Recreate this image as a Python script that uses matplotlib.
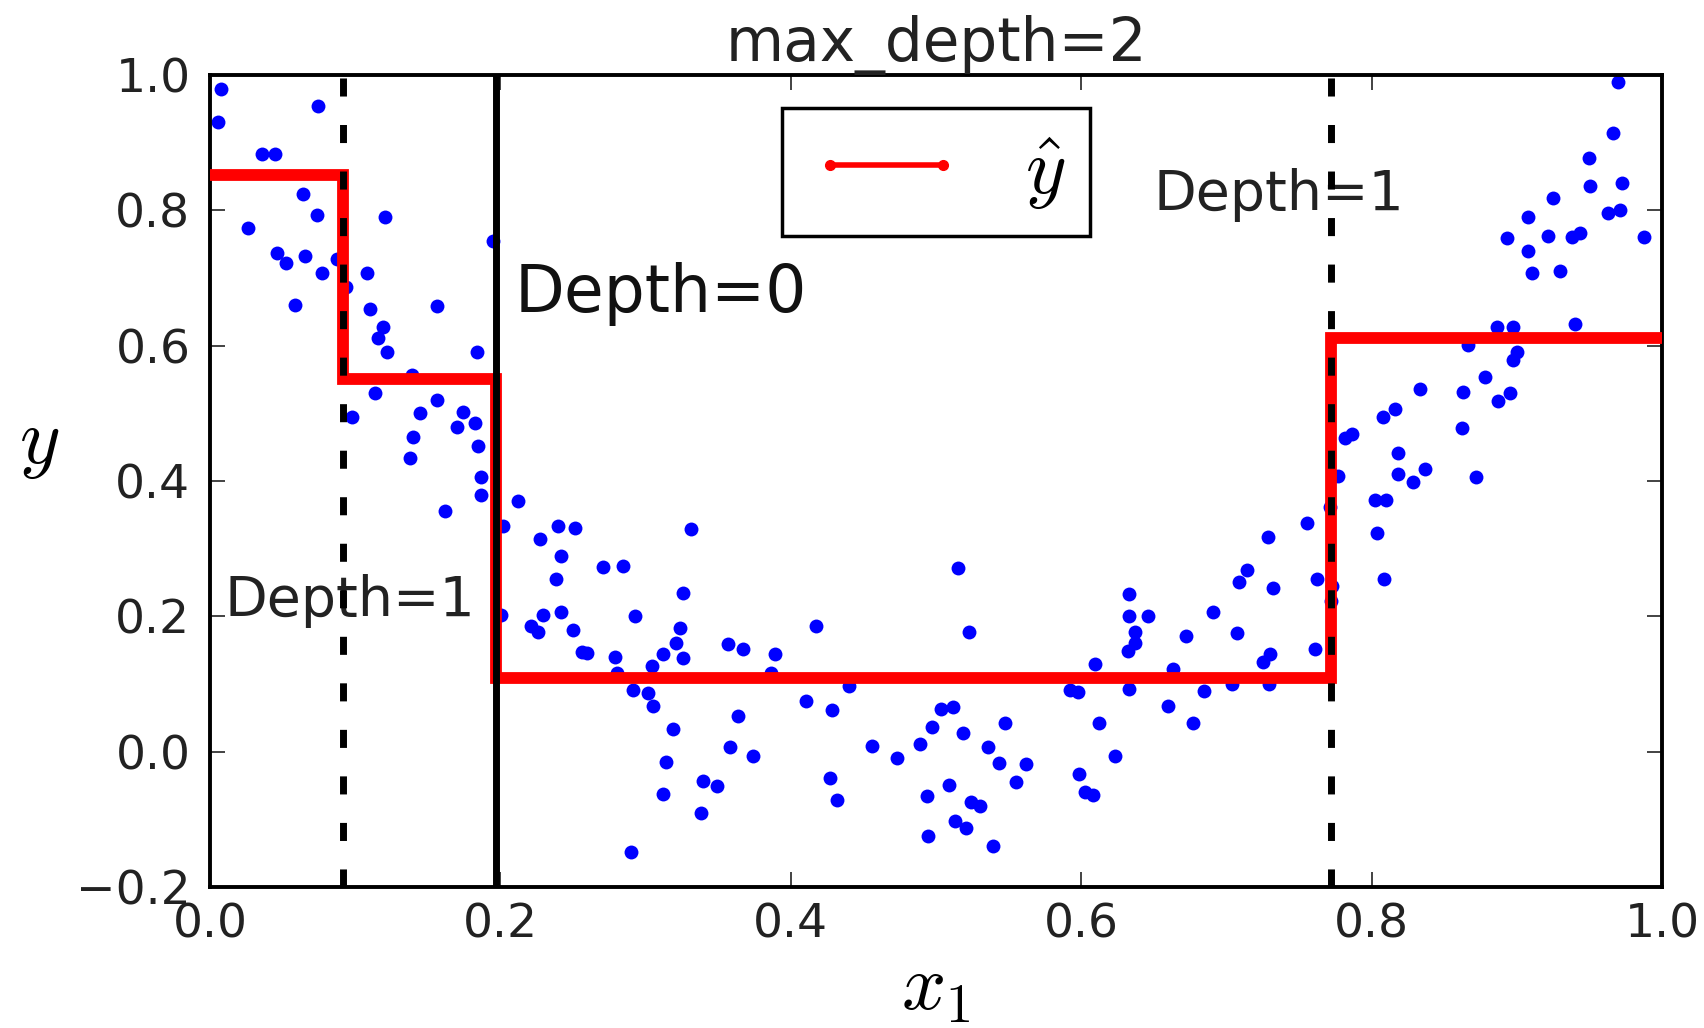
import numpy as np
import matplotlib.pyplot as plt
from matplotlib.lines import Line2D

plt.rcParams['mathtext.fontset'] = 'cm'

# training samples (x1, y)
x1_vals = [
    0.0074, 0.0057, 0.0746, 0.0356, 0.0448, 0.0643, 0.0735, 0.0264, 0.1205, 0.0464,
    0.0523, 0.0654, 0.0769, 0.0872, 0.0937, 0.0585, 0.1084, 0.1102, 0.1189, 0.1159,
    0.1220, 0.1561, 0.1836, 0.1951, 0.1389, 0.1136, 0.0976, 0.1561, 0.1446, 0.1745,
    0.1699, 0.1825, 0.1400, 0.1848, 0.1377, 0.1870,
    0.1870, 0.1618, 0.2124, 0.2020, 0.2399, 0.2514, 0.2276, 0.2421, 0.2383, 0.2007,
    0.2296, 0.2421, 0.2214, 0.2261, 0.2497, 0.2560,
    0.2600, 0.3311, 0.2709, 0.2847, 0.3255, 0.2927, 0.3237, 0.3209, 0.3122, 0.3260,
    0.2789, 0.3042, 0.2805, 0.3570, 0.3673, 0.3891, 0.3861, 0.4174, 0.2911, 0.3019,
    0.3053, 0.3638, 0.3186, 0.3581, 0.3742, 0.3140, 0.3393, 0.3489, 0.3117, 0.3379,
    0.2897, 0.4105, 0.4281, 0.4403, 0.4557, 0.4729, 0.4890, 0.4270, 0.4320, 0.4936,
    0.4947, 0.4970,
    0.5154, 0.5230, 0.5037, 0.5120, 0.5188, 0.5360, 0.5475, 0.5434, 0.5620, 0.5551,
    0.5092, 0.5244, 0.5303, 0.5131, 0.5207, 0.5395, 0.5923, 0.5980, 0.6095, 0.6125,
    0.6233, 0.5987, 0.6026, 0.6083, 0.6332, 0.6332, 0.6458, 0.6371, 0.6371, 0.6325,
    0.6332, 0.6634, 0.6600, 0.6772, 0.6722, 0.6846, 0.6910, 0.7036, 0.7070, 0.7089,
    0.7140, 0.7284, 0.7323, 0.7254, 0.7300, 0.7296,
    0.7771, 0.8184, 0.8287, 0.8368, 0.8719, 0.8023, 0.8099, 0.8040, 0.8088, 0.7712,
    0.7557, 0.7622, 0.7725, 0.7718, 0.7610,
    0.9699, 0.9665, 0.9500, 0.9504, 0.9722, 0.9251, 0.9079, 0.9631, 0.9711, 0.8930,
    0.9217, 0.9378, 0.9435, 0.9876, 0.9079, 0.9102, 0.9298, 0.9401, 0.8861, 0.8976,
    0.8666, 0.9000, 0.8976, 0.8781, 0.8632, 0.8873, 0.8953, 0.8333, 0.8620, 0.8081,
    0.8161, 0.7817, 0.7863, 0.8184,
]
y_vals = [
    0.980, 0.931, 0.954, 0.884, 0.883, 0.824, 0.793, 0.774, 0.790, 0.737,
    0.722, 0.733, 0.708, 0.728, 0.686, 0.660, 0.707, 0.654, 0.628, 0.611,
    0.590, 0.659, 0.590, 0.754, 0.557, 0.530, 0.494, 0.519, 0.501, 0.502,
    0.480, 0.486, 0.465, 0.451, 0.434, 0.406,
    0.379, 0.356, 0.371, 0.334, 0.333, 0.330, 0.314, 0.289, 0.255, 0.202,
    0.202, 0.206, 0.185, 0.177, 0.180, 0.148,
    0.146, 0.329, 0.273, 0.274, 0.234, 0.200, 0.182, 0.160, 0.145, 0.139,
    0.140, 0.127, 0.116, 0.159, 0.151, 0.144, 0.116, 0.185, 0.091, 0.087,
    0.067, 0.052, 0.033, 0.007, -0.006, -0.015, -0.043, -0.051, -0.062, -0.090,
    -0.149, 0.075, 0.062, 0.097, 0.008, -0.009, 0.011, -0.039, -0.071, -0.066,
    -0.125, 0.036,
    0.272, 0.177, 0.063, 0.066, 0.028, 0.007, 0.043, -0.017, -0.019, -0.045,
    -0.049, -0.074, -0.080, -0.102, -0.113, -0.139, 0.091, 0.088, 0.130, 0.042,
    -0.006, -0.033, -0.059, -0.064, 0.233, 0.201, 0.200, 0.177, 0.161, 0.149,
    0.093, 0.122, 0.068, 0.043, 0.171, 0.090, 0.206, 0.100, 0.176, 0.250,
    0.268, 0.317, 0.242, 0.132, 0.144, 0.100,
    0.407, 0.410, 0.398, 0.417, 0.406, 0.372, 0.372, 0.323, 0.255, 0.362,
    0.338, 0.255, 0.245, 0.222, 0.151,
    0.990, 0.914, 0.877, 0.836, 0.840, 0.818, 0.790, 0.796, 0.800, 0.759,
    0.762, 0.761, 0.767, 0.760, 0.740, 0.707, 0.710, 0.632, 0.628, 0.628,
    0.601, 0.591, 0.579, 0.553, 0.531, 0.518, 0.530, 0.536, 0.479, 0.494,
    0.506, 0.463, 0.470, 0.441,
]

# tree: leaf boundaries and predicted values
leaf_edges = [0.0, 0.0917, 0.1973, 0.7718, 1.0]
leaf_values = [0.852, 0.551, 0.109, 0.611]

# split thresholds and line styles
splits = [0.1973, 0.0917, 0.7718]
split_styles = ['-', '--', '--']

x_ticks = [0.0, 0.2, 0.4, 0.6, 0.8, 1.0]
y_ticks = [-0.2, 0.0, 0.2, 0.4, 0.6, 0.8, 1.0]

fig = plt.figure(figsize=(17.04, 10.28), dpi=100)
ax = fig.add_axes([0.1232, 0.1372, 0.8522, 0.7898])

ax.plot(x1_vals, y_vals, 'o', color='#0000ff', markersize=10, markeredgewidth=0, zorder=2)
ax.step(leaf_edges, leaf_values + [leaf_values[-1]], where='post',
        color='#ff0000', linewidth=8.5, solid_joinstyle='miter', zorder=3)

for split, style in zip(splits, split_styles):
    if style == '-':
        ax.axvline(split, color='black', linewidth=5, zorder=4)
    else:
        ax.axvline(split, color='black', linewidth=5, dashes=(2.6, 4.1), zorder=4)

ax.text(0.21, 0.65, 'Depth=0', fontsize=46.5, color='#111111')
ax.text(0.01, 0.2, 'Depth=1', fontsize=40, color='#222222')
ax.text(0.65, 0.8, 'Depth=1', fontsize=40, color='#222222')

ax.set_xlim(0, 1)
ax.set_ylim(-0.2, 1)
ax.set_xticks(x_ticks)
ax.set_yticks(y_ticks)
ax.tick_params(direction='in', top=True, right=True, length=11, width=1.2,
               labelsize=34, colors='#222222')
ax.tick_params(axis='x', pad=11)
ax.tick_params(axis='y', pad=14)
for sp in ax.spines.values():
    sp.set_linewidth(2.8)

ax.set_xlabel('$x_1$', fontsize=56, labelpad=2)
ax.set_ylabel('$y$', fontsize=56, rotation=0, labelpad=26)
ax.set_title('max_depth=2', fontsize=43, pad=10, color='#222222')

handle = Line2D([], [], color='#ff0000', linewidth=4, marker='.', markersize=14)
leg = ax.legend([handle], [r'$\hat{y}$'], loc='upper center', fontsize=56,
                numpoints=2, handlelength=2.05, handletextpad=0.75, borderpad=0.32,
                borderaxespad=0.42, fancybox=False, framealpha=1)
leg.get_frame().set_edgecolor('black')
leg.get_frame().set_linewidth(2.5)

plt.savefig('out.png', dpi=100)
